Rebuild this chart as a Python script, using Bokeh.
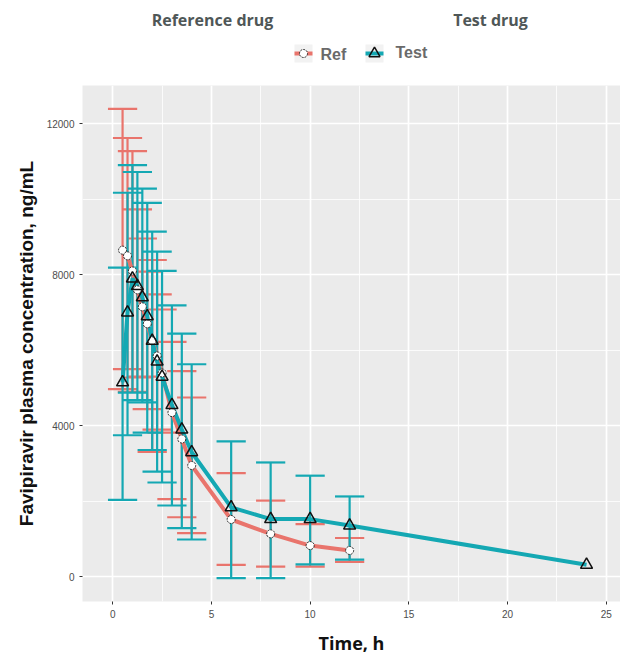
from bokeh.plotting import figure
from bokeh.layouts import column
from bokeh.models import Range1d, FixedTicker, ColumnDataSource
from bokeh.core.properties import value
from bokeh.embed import file_html
from bokeh.resources import INLINE

# ---- data ----
ref_time = [0.5, 0.75, 1, 1.25, 1.5, 1.75, 2, 2.25, 2.5, 3, 3.5, 4, 6, 8, 10, 12]
ref_mean = [8650, 8500, 8100, 7600, 7150, 6700, 6250, 5850, 5400, 4350, 3650, 2950, 1520, 1140, 830, 700]
ref_upper = [12390, 11620, 11270, 9730, 8960, 8080, 8390, 7480, 7080, 6220, 5450, 4750, 2750, 2020, 1400, 1030]
ref_lower = [4970, 5500, 4900, 5280, 5300, 4440, 3310, 3900, 3820, 2060, 1580, 1160, 320, 270, 270, 400]

test_time = [0.5, 0.75, 1, 1.25, 1.5, 1.75, 2, 2.25, 2.5, 3, 3.5, 4, 6, 8, 10, 12, 24]
test_mean = [5150, 7000, 7900, 7700, 7400, 6900, 6250, 5700, 5300, 4550, 3900, 3300, 1840, 1530, 1530, 1360, 320]
test_err_time = [0.5, 0.75, 1, 1.25, 1.5, 1.75, 2, 2.25, 2.5, 3, 3.5, 4, 6, 8, 10, 12]
test_upper = [8190, 10170, 10900, 10720, 10280, 9900, 9140, 8610, 8100, 7190, 6440, 5630, 3590, 3030, 2680, 2130]
test_lower = [2040, 3750, 4880, 4680, 4620, 3820, 3360, 2790, 2500, 1890, 1290, 990, -30, -30, 330, 460]

x_ticks = [0, 5, 10, 15, 20, 25]
x_minor = [2.5, 7.5, 12.5, 17.5, 22.5]
y_ticks = [0, 4000, 8000, 12000]
y_minor = [2000, 6000, 10000]

series_names = ["Ref", "Test"]
facet_titles = ["Reference drug", "Test drug"]

# ---- style ----
RED = "#E9746C"
TEAL = "#14A8B3"
CAP = 0.74  # half cap width, hours
HEADER_H = 85
LEFT = 82

# ---- header (facet titles + legend), laid out in page-pixel units ----
h = figure(width=620, height=HEADER_H, output_backend="svg", toolbar_location=None,
           x_range=Range1d(LEFT, 620), y_range=Range1d(0, HEADER_H),
           x_axis_type=None, y_axis_type=None,
           min_border_left=LEFT, min_border_right=0, min_border_top=0, min_border_bottom=0)
h.outline_line_color = None
h.background_fill_color = "white"
h.border_fill_color = "white"
h.xgrid.visible = False
h.ygrid.visible = False

h.text(x=[212, 490], y=[66, 66], text=facet_titles, text_align="center",
       text_baseline="middle", text_font=value("Open Sans"), text_font_style="bold",
       text_font_size="16px", text_color="#4F5757")

key_x = [303, 374]
key_y = [32, 32]
h.rect(x=key_x, y=key_y, width=18, height=18, fill_color="#F2F2F2", line_color=None)
h.segment(x0=[k - 9 for k in key_x], y0=key_y, x1=[k + 9 for k in key_x], y1=key_y,
          line_color=[RED, TEAL], line_width=4)
h.scatter(x=key_x[:1], y=key_y[:1], marker="circle", size=8, fill_color="white",
          line_color="#222222", line_width=1, line_dash="2 1")
h.scatter(x=key_x[1:], y=key_y[1:], marker="triangle", size=11, fill_alpha=0,
          line_color="#111111", line_width=1.5)
h.text(x=[320, 395], y=[31, 33], text=series_names, text_align="left", text_baseline="middle",
       text_font=value("Liberation Sans"), text_font_style="bold", text_font_size="16px",
       text_color="#6A6A6A")

# ---- main plot ----
p = figure(width=620, height=657 - HEADER_H, output_backend="svg", toolbar_location=None,
           x_range=Range1d(-1.53, 25.72), y_range=Range1d(-651, 13010),
           min_border_left=LEFT, min_border_right=0, min_border_top=0, min_border_bottom=54)
p.background_fill_color = "#EBEBEB"
p.border_fill_color = "white"
p.outline_line_color = None

p.xaxis.ticker = FixedTicker(ticks=x_ticks, minor_ticks=x_minor)
p.yaxis.ticker = FixedTicker(ticks=y_ticks, minor_ticks=y_minor)
for g in (p.xgrid, p.ygrid):
    g.grid_line_color = "white"
    g.grid_line_width = 1.7
    g.minor_grid_line_color = "white"
    g.minor_grid_line_width = 0.8
for ax in (p.xaxis, p.yaxis):
    ax.axis_line_color = None
    ax.major_tick_line_color = "#333333"
    ax.major_tick_out = 3
    ax.major_tick_in = 0
    ax.minor_tick_line_color = None
    ax.major_label_text_color = "#4D4D4D"
    ax.major_label_text_font = "Liberation Sans"
    ax.major_label_text_font_size = "10px"
    ax.axis_label_text_font_style = "bold"
    ax.axis_label_text_color = "#111111"
p.yaxis.major_label_standoff = 4
p.xaxis.major_label_standoff = 4
p.yaxis.axis_label = "Favipiravir plasma concentration, ng/mL"
p.yaxis.axis_label_text_font = "Liberation Sans"
p.yaxis.axis_label_text_font_size = "19px"
p.yaxis.axis_label_standoff = 7
p.xaxis.axis_label = "Time, h"
p.xaxis.axis_label_text_font = "Open Sans"
p.xaxis.axis_label_text_font_size = "18px"
p.xaxis.axis_label_standoff = 10

def errorbars(times, lo, hi, color):
    src = ColumnDataSource(dict(
        x=times, lo=lo, hi=hi,
        xl=[t - CAP for t in times], xr=[t + CAP for t in times]))
    p.segment(x0="x", y0="lo", x1="x", y1="hi", source=src, line_color=color, line_width=2.2)
    p.segment(x0="xl", y0="hi", x1="xr", y1="hi", source=src, line_color=color, line_width=2.2)
    p.segment(x0="xl", y0="lo", x1="xr", y1="lo", source=src, line_color=color, line_width=2.2)

errorbars(ref_time, ref_lower, ref_upper, RED)
errorbars(test_err_time, test_lower, test_upper, TEAL)

p.line(ref_time, ref_mean, line_color=RED, line_width=4)
p.line(test_time, test_mean, line_color=TEAL, line_width=4)
p.scatter(ref_time, ref_mean, marker="circle", size=8, fill_color="white",
          line_color="#222222", line_width=1, line_dash="2 1")
p.scatter(test_time, test_mean, marker="triangle", size=12, fill_alpha=0,
          line_color="#111111", line_width=1.5)

layout = column(h, p, spacing=0)
open("out.html", "w").write(file_html(layout, INLINE))
